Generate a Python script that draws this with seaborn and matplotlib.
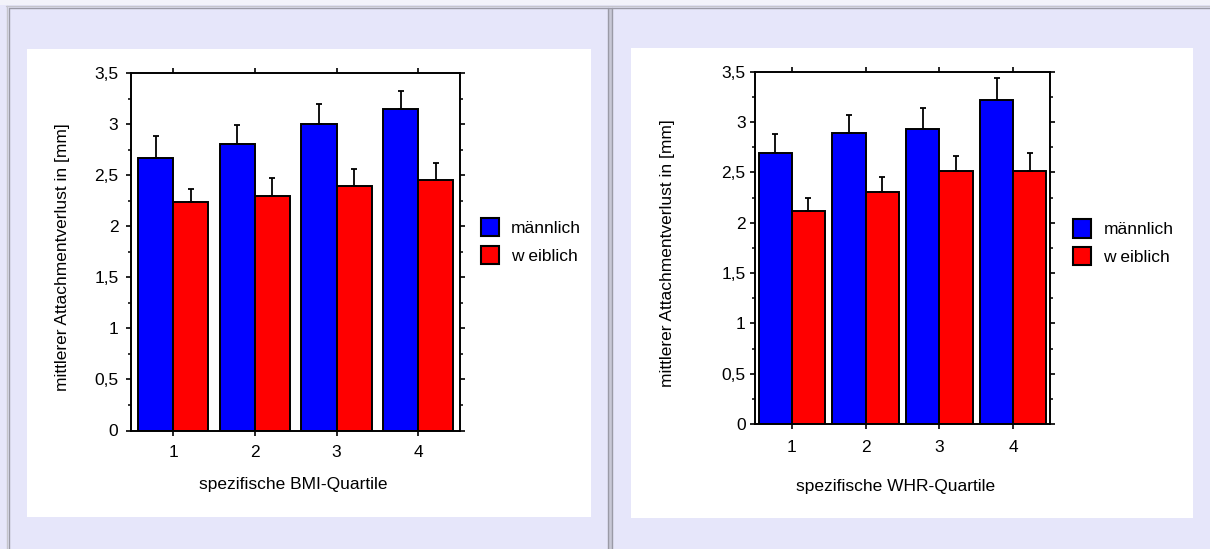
import matplotlib
matplotlib.use("Agg")
import matplotlib.pyplot as plt
import numpy as np
import pandas as pd
import seaborn as sns
from matplotlib.ticker import MultipleLocator, FuncFormatter
from matplotlib.patches import Rectangle, Patch
from matplotlib.lines import Line2D

# ---- data -------------------------------------------------------------
quartiles = ["1", "2", "3", "4"]
sexes = ["männlich", "w eiblich"]

bmi_male = [2.67, 2.81, 3.00, 3.15]
bmi_female = [2.24, 2.30, 2.40, 2.45]
bmi_male_err = [0.22, 0.18, 0.20, 0.18]
bmi_female_err = [0.13, 0.17, 0.16, 0.17]

whr_male = [2.69, 2.89, 2.93, 3.22]
whr_female = [2.12, 2.31, 2.51, 2.51]
whr_male_err = [0.19, 0.18, 0.21, 0.22]
whr_female_err = [0.13, 0.14, 0.15, 0.18]

y_label = "mittlerer Attachmentverlust in [mm]"
x_label_bmi = "spezifische BMI-Quartile"
x_label_whr = "spezifische WHR-Quartile"

bar_colors = ["#0000FF", "#FF0000"]
FS = 12.5

# ---- style ------------------------------------------------------------
sns.set_style("ticks")
plt.rcParams["font.family"] = ["Liberation Sans", "DejaVu Sans"]
plt.rcParams["text.color"] = "black"
plt.rcParams["axes.labelcolor"] = "black"
plt.rcParams["xtick.color"] = "black"
plt.rcParams["ytick.color"] = "black"
plt.rcParams["axes.edgecolor"] = "black"

W, H = 1210, 549
fig = plt.figure(figsize=(W / 100, H / 100), dpi=100)
fig.patch.set_facecolor("#E6E6FA")


def px_rect(x0, y0, x1, y1):
    """Pixel box (top-left origin) -> figure fraction [l, b, w, h]."""
    return [x0 / W, 1 - y1 / H, (x1 - x0) / W, (y1 - y0) / H]


def fig_line(xs, ys, color, lw):
    fig.add_artist(Line2D([x / W for x in xs], [1 - y / H for y in ys],
                          color=color, lw=lw, transform=fig.transFigure))


# page frame: border lines and divider between the two panels
fig.add_artist(Rectangle((0, 1 - 5 / H), 1, 5 / H, transform=fig.transFigure,
                         facecolor="#F2F2FA", edgecolor="none", zorder=0))
fig_line([6, W], [5.5, 5.5], "#C4C4CC", 1.0)
fig_line([8.5, W], [7.5, 7.5], "#9A9AA6", 1.0)
fig_line([6.5, 6.5], [5.5, H], "#C4C4CC", 1.0)
fig_line([8.5, 8.5], [7.5, H], "#9A9AA6", 1.0)
fig.add_artist(Rectangle((607.5 / W, 0), 4.5 / W, 1 - 7.5 / H,
                         transform=fig.transFigure, facecolor="#C8C8D6",
                         edgecolor="none", zorder=0))
fig_line([607.8, 607.8], [7.5, H], "#9A9AA6", 1.0)
fig_line([611.6, 611.6], [7.5, H], "#9A9AA6", 1.0)

# white chart cards
for box in [(26.7, 49, 590.6, 516.5), (631, 48, 1192.7, 517.7)]:
    l, b, w, h = px_rect(*box)
    fig.add_artist(Rectangle((l, b), w, h, transform=fig.transFigure,
                             facecolor="white", edgecolor="none", zorder=0))

comma_fmt = FuncFormatter(lambda v, p: f"{v:g}".replace(".", ","))


def draw_panel(axbox, male, female, male_err, female_err, xlabel, width,
               xlim, ytick_pad, xtick_pad, xlab_coords, ylab_coords, leg_xy):
    ax = fig.add_axes(px_rect(*axbox))
    ax.set_facecolor("white")
    df = pd.DataFrame({
        "Quartil": quartiles * 2,
        "Geschlecht": [sexes[0]] * len(quartiles) + [sexes[1]] * len(quartiles),
        "Wert": list(male) + list(female),
    })
    sns.barplot(data=df, x="Quartil", y="Wert", hue="Geschlecht",
                order=quartiles, hue_order=sexes, palette=bar_colors,
                saturation=1, width=width, edgecolor="black", linewidth=1.4,
                errorbar=None, legend=False, ax=ax, zorder=2)

    # one-sided (upper) error bars on top of each bar
    for container, errs in zip(ax.containers, [male_err, female_err]):
        for bar, e in zip(container, errs):
            xc = bar.get_x() + bar.get_width() / 2
            ax.errorbar(xc, bar.get_height(), yerr=[[0], [e]], fmt="none",
                        ecolor="black", elinewidth=1.3, capsize=2.2,
                        capthick=1.3, zorder=3)

    ax.set_xlim(*xlim)
    ax.set_ylim(0, 3.5)
    ax.yaxis.set_major_locator(MultipleLocator(0.5))
    ax.yaxis.set_minor_locator(MultipleLocator(0.25))
    ax.yaxis.set_major_formatter(comma_fmt)

    for side in ["left", "right", "top", "bottom"]:
        ax.spines[side].set_visible(True)
        ax.spines[side].set_linewidth(1.4)
        ax.spines[side].set_color("black")

    ax.tick_params(axis="y", which="major", left=True, right=True,
                   direction="out", length=3.8, width=1.2, labelsize=FS,
                   pad=ytick_pad)
    ax.tick_params(axis="y", which="minor", left=True, right=True,
                   direction="out", length=2.2, width=1.1)
    ax.tick_params(axis="x", which="major", bottom=True, top=True,
                   direction="out", length=3.3, width=1.2, labelsize=FS,
                   pad=xtick_pad)
    ax.tick_params(axis="x", which="minor", bottom=False, top=False)

    ax.set_xlabel(xlabel, fontsize=FS)
    ax.set_ylabel(y_label, fontsize=FS)
    ax.xaxis.set_label_coords(*xlab_coords)
    ax.yaxis.set_label_coords(*ylab_coords)

    handles = [Patch(facecolor=c, edgecolor="black", linewidth=1.5)
               for c in bar_colors]
    ax.legend(handles, sexes, loc="center left",
              bbox_to_anchor=leg_xy, bbox_transform=fig.transFigure,
              frameon=False, fontsize=FS, handlelength=1.04,
              handleheight=1.24, labelspacing=0.55, handletextpad=0.72,
              borderpad=0, borderaxespad=0)
    return ax


draw_panel((130.7, 73.3, 460, 430.5), bmi_male, bmi_female,
           bmi_male_err, bmi_female_err, x_label_bmi, 0.86, (-0.52, 3.51),
           ytick_pad=5, xtick_pad=7.3, xlab_coords=(0.493, -0.129),
           ylab_coords=(-0.184, 0.4866), leg_xy=(480.7 / W, 1 - 241 / H))

draw_panel((755, 71.75, 1050, 424), whr_male, whr_female,
           whr_male_err, whr_female_err, x_label_whr, 0.9, (-0.5, 3.5),
           ytick_pad=3, xtick_pad=8.3, xlab_coords=(0.477, -0.155),
           ylab_coords=(-0.271, 0.4855), leg_xy=(1072.8 / W, 1 - 242.3 / H))

fig.savefig("out.png", dpi=100, facecolor=fig.get_facecolor())
